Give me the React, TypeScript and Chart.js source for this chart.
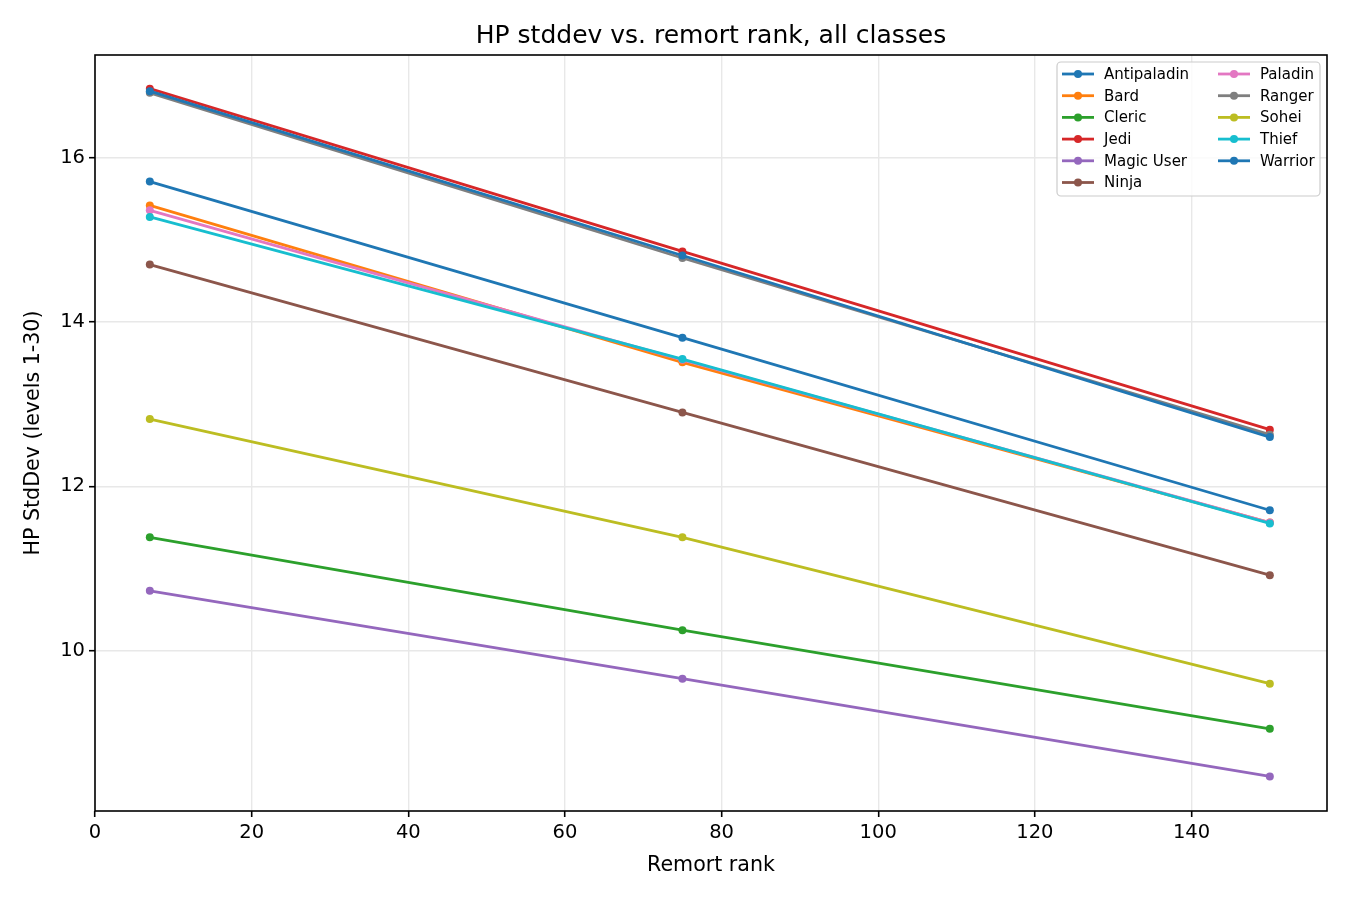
import { useEffect, useRef } from "react"
import { Chart, registerables } from "chart.js"

Chart.register(...registerables)

const chartTitle = "HP stddev vs. remort rank, all classes"
const xTitle = "Remort rank"
const yTitle = "HP StdDev (levels 1-30)"

// remort ranks sampled for every class
const remortRanks = [7, 75, 150]

const classNames = [
  "Antipaladin", "Bard", "Cleric", "Jedi", "Magic User", "Ninja",
  "Paladin", "Ranger", "Sohei", "Thief", "Warrior",
]
const classColors = [
  "#1f77b4", "#ff7f0e", "#2ca02c", "#d62728", "#9467bd", "#8c564b",
  "#e377c2", "#7f7f7f", "#bcbd22", "#17becf", "#1f77b4",
]

// HP stddev per class at each remort rank
const antipaladinHp = [15.71, 13.81, 11.71]
const bardHp = [15.42, 13.51, 11.56]
const clericHp = [11.38, 10.25, 9.05]
const jediHp = [16.84, 14.86, 12.69]
const magicUserHp = [10.73, 9.66, 8.47]
const ninjaHp = [14.7, 12.9, 10.92]
const paladinHp = [15.36, 13.54, 11.56]
const rangerHp = [16.79, 14.78, 12.63]
const soheiHp = [12.82, 11.38, 9.6]
const thiefHp = [15.28, 13.55, 11.55]
const warriorHp = [16.81, 14.81, 12.6]

const seriesValues = [
  antipaladinHp, bardHp, clericHp, jediHp, magicUserHp, ninjaHp,
  paladinHp, rangerHp, soheiHp, thiefHp, warriorHp,
]

const xTicks = [0, 20, 40, 60, 80, 100, 120, 140]
const yTicks = [10, 12, 14, 16]

const FONT = "'DejaVu Sans', sans-serif"

// spines, title and an in-axes legend like matplotlib
const framePlugin = {
  id: "frameTitleLegend",
  afterDraw(chart: any) {
    const { ctx, chartArea: a } = chart
    ctx.save()
    ctx.strokeStyle = "#000"
    ctx.lineWidth = 1.6
    ctx.strokeRect(a.left, a.top, a.right - a.left, a.bottom - a.top)

    ctx.fillStyle = "#000"
    ctx.font = `25px ${FONT}`
    ctx.textAlign = "center"
    ctx.textBaseline = "alphabetic"
    ctx.fillText(chartTitle, (a.left + a.right) / 2, a.top - 12)

    // legend box
    const boxW = 263
    const boxH = 134
    const bx = a.right - 7 - boxW
    const by = a.top + 7
    ctx.beginPath()
    ctx.roundRect(bx, by, boxW, boxH, 4)
    ctx.fillStyle = "rgba(255,255,255,0.8)"
    ctx.fill()
    ctx.strokeStyle = "#cccccc"
    ctx.lineWidth = 1.2
    ctx.stroke()

    ctx.font = `15px ${FONT}`
    ctx.textAlign = "left"
    ctx.textBaseline = "middle"
    classNames.forEach((name, i) => {
      const col = i < 6 ? 0 : 1
      const row = i < 6 ? i : i - 6
      const lx = bx + 5 + col * 156
      const ly = by + 12 + row * 21.7
      ctx.strokeStyle = classColors[i]
      ctx.lineWidth = 2.8
      ctx.beginPath()
      ctx.moveTo(lx, ly)
      ctx.lineTo(lx + 32, ly)
      ctx.stroke()
      ctx.fillStyle = classColors[i]
      ctx.beginPath()
      ctx.arc(lx + 16, ly, 4, 0, Math.PI * 2)
      ctx.fill()
      ctx.fillStyle = "#000"
      ctx.fillText(name, lx + 42, ly + 1)
    })
    ctx.restore()
  },
}

export default function App() {
  const chartRef = useRef<HTMLCanvasElement>(null)
  const chartInstance = useRef<Chart | null>(null)

  useEffect(() => {
    if (!chartRef.current) return
    if (chartInstance.current) chartInstance.current.destroy()
    const ctx = chartRef.current.getContext("2d")
    if (!ctx) return

    Chart.defaults.font.family = FONT
    Chart.defaults.color = "#000"

    const n = classNames.length
    chartInstance.current = new Chart(ctx, {
      type: "line",
      data: {
        datasets: classNames.map((name, i) => ({
          label: name,
          data: remortRanks.map((x, j) => ({ x, y: seriesValues[i][j] })),
          borderColor: classColors[i],
          backgroundColor: classColors[i],
          pointBackgroundColor: classColors[i],
          borderWidth: 2.8,
          pointRadius: 4,
          pointBorderWidth: 0,
          tension: 0,
          order: n - i,
        })),
      },
      options: {
        animation: false,
        responsive: true,
        maintainAspectRatio: false,
        layout: { padding: { top: 55, right: 23, left: 0, bottom: 0 } },
        plugins: {
          legend: { display: false },
          title: { display: false },
          tooltip: { enabled: false },
        },
        scales: {
          x: {
            type: "linear",
            min: 0,
            max: 157.3,
            afterBuildTicks: (scale: any) => {
              scale.ticks = xTicks.map((v) => ({ value: v }))
            },
            afterFit: (scale: any) => {
              scale.height = 89
            },
            ticks: { font: { size: 19.5 }, color: "#000", padding: 4, maxRotation: 0 },
            grid: { color: "#e8e8e8", lineWidth: 1.4, tickColor: "#000", tickLength: 6, tickWidth: 1.6 },
            border: { display: false },
            title: { display: true, text: xTitle, font: { size: 20.6 }, color: "#000", padding: { top: 0, bottom: 22 } },
          },
          y: {
            type: "linear",
            min: 8.05,
            max: 17.25,
            afterBuildTicks: (scale: any) => {
              scale.ticks = yTicks.map((v) => ({ value: v }))
            },
            afterFit: (scale: any) => {
              scale.width = 95
            },
            ticks: { font: { size: 19.5 }, color: "#000", padding: 4 },
            grid: { color: "#e8e8e8", lineWidth: 1.4, tickColor: "#000", tickLength: 6, tickWidth: 1.6 },
            border: { display: false },
            title: { display: true, text: yTitle, font: { size: 20.6 }, color: "#000", padding: { top: 21, bottom: 0 } },
          },
        },
      },
      plugins: [framePlugin],
    })

    return () => {
      if (chartInstance.current) chartInstance.current.destroy()
    }
  }, [])

  return (
    <div style={{ position: "absolute", left: 0, top: 0, width: 1350, height: 900, background: "#fff" }}>
      <canvas ref={chartRef} />
    </div>
  )
}
